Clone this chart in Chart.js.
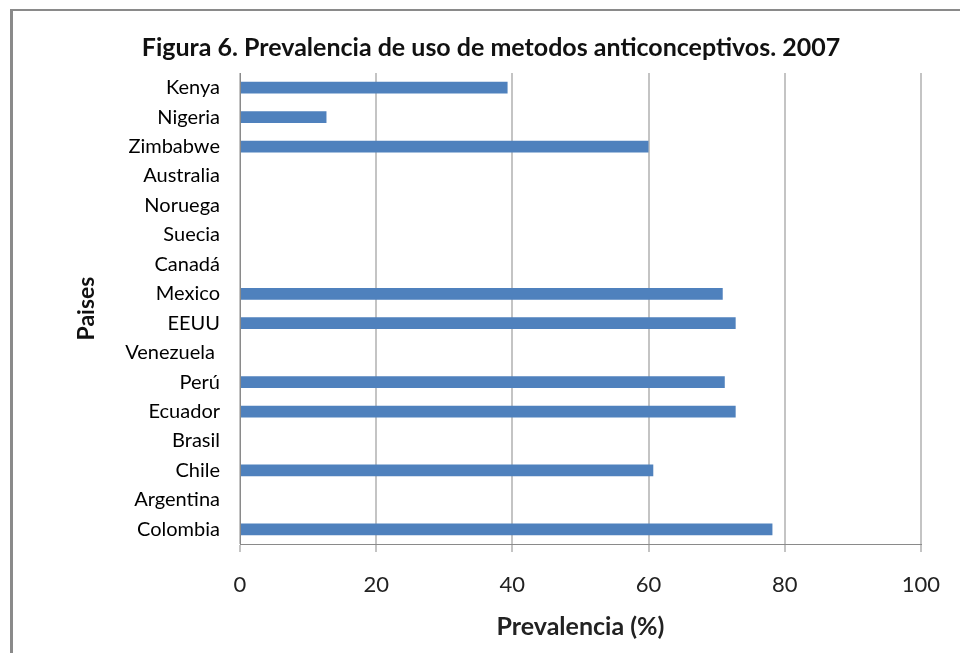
<!DOCTYPE html>
<html>
<head>
<meta charset="utf-8">
<script src="https://cdn.jsdelivr.net/npm/chart.js@4/dist/chart.umd.min.js"></script>
<style>
  html, body { margin: 0; padding: 0; background: #fff; }
  #wrap { width: 960px; height: 653px; position: relative; }
</style>
</head>
<body>
<div id="wrap"><canvas id="c" width="960" height="653"></canvas></div>
<script>
const titleText = "Figura 6. Prevalencia de uso de metodos anticonceptivos. 2007";
const xTitle = "Prevalencia (%)";
const yTitle = "Paises";
const countries = ["Kenya", "Nigeria", "Zimbabwe", "Australia", "Noruega", "Suecia", "Canadá", "Mexico", "EEUU", "Venezuela ", "Perú", "Ecuador", "Brasil", "Chile", "Argentina", "Colombia"];
const prevalence = [39.3, 12.7, 60.0, null, null, null, null, 70.9, 72.8, null, 71.2, 72.8, null, 60.7, null, 78.2];
const xMin = 0, xMax = 100, xStep = 20;

const FONT = "Lato, 'Open Sans', sans-serif";

const framePlugin = {
  id: 'frame',
  afterDraw(chart) {
    const ctx = chart.ctx;
    ctx.save();
    ctx.strokeStyle = '#8a8a8a';
    ctx.lineWidth = 2;
    ctx.beginPath();
    ctx.moveTo(10, 10);
    ctx.lineTo(960, 10);
    ctx.stroke();
    ctx.lineWidth = 3;
    ctx.beginPath();
    ctx.moveTo(11.5, 9);
    ctx.lineTo(11.5, 653);
    ctx.stroke();
    ctx.restore();
  }
};

new Chart(document.getElementById('c'), {
  type: 'bar',
  data: {
    labels: countries,
    datasets: [{
      data: prevalence,
      backgroundColor: '#4f81bd',
      borderWidth: 0,
      categoryPercentage: 1.0,
      barPercentage: 0.40
    }]
  },
  options: {
    indexAxis: 'y',
    responsive: false,
    animation: false,
    devicePixelRatio: 1,
    layout: { padding: { left: 60, right: 38, top: 0, bottom: 0 } },
    plugins: {
      legend: { display: false },
      tooltip: { enabled: false },
      title: {
        display: true,
        text: titleText,
        color: '#111',
        font: { family: FONT, size: 25, weight: 'bold' },
        padding: { top: 33, bottom: 10 }
      }
    },
    scales: {
      x: {
        min: xMin, max: xMax,
        ticks: { stepSize: xStep, color: '#222', font: { family: FONT, size: 22 }, padding: 20 },
        grid: { color: '#c4c4c4', lineWidth: 2, tickLength: 8, drawOnChartArea: true },
        border: { display: true, color: '#8a8a8a', width: 1 },
        title: { display: true, text: xTitle, color: '#222', font: { family: FONT, size: 25, weight: 'bold' }, padding: { top: 0, bottom: 11 } },
        afterFit(scale) { scale.height = 109; }
      },
      y: {
        ticks: { color: '#000', font: { family: FONT, size: 20 }, padding: 12 },
        grid: { display: false },
        border: { display: true, color: '#8a8a8a', width: 1 },
        title: { display: true, text: yTitle, color: '#111', font: { family: FONT, size: 23, weight: 'bold' }, padding: { top: 13, bottom: 0 } },
        afterFit(scale) { scale.width = 180; }
      }
    }
  },
  plugins: [framePlugin]
});
</script>
</body>
</html>
